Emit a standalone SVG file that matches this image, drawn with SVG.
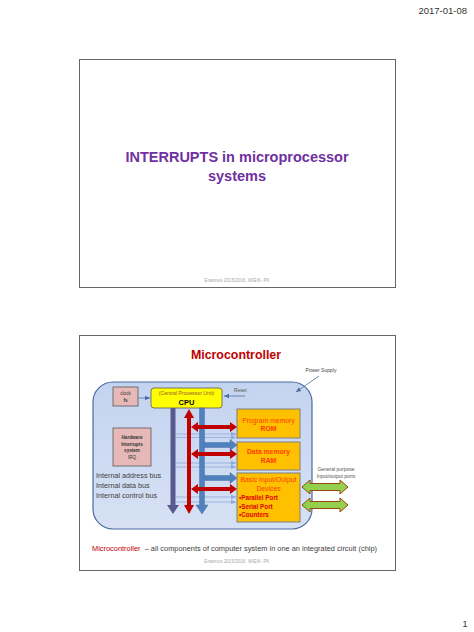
<svg xmlns="http://www.w3.org/2000/svg" width="474" height="632" viewBox="0 0 474 632">
<defs>
<style>
text{font-family:"Liberation Sans",Arial,sans-serif}
.slide{fill:#fff;stroke:#666;stroke-width:1}
.foot{font-size:4.6px;fill:#a8a8a8;text-anchor:middle}
.pink{fill:#e6b9b8;stroke:#595959;stroke-width:0.8}
.mem{fill:#ffc000;stroke:#7f7f7f;stroke-width:1}
.small{font-size:4.6px;fill:#333;text-anchor:middle}
.memt{font-size:6.8px;fill:#ff3c00;text-anchor:middle}
.bul{font-size:6.3px;fill:#e00000;font-weight:bold}
.bus{font-size:7.2px;fill:#404040}
.thin{stroke:#8faadc;stroke-width:0.8;fill:none;marker-end:url(#ta)}
.red{fill:#c00000}
.blue{fill:#4f81bd;stroke:#3a639a;stroke-width:0.4}
.green{fill:#92d050;stroke:#984807;stroke-width:1}
.ln{stroke:#4a6fa5;stroke-width:0.8;fill:none;marker-end:url(#la)}
</style>
<linearGradient id="bg" x1="0" y1="0" x2="0" y2="1">
<stop offset="0" stop-color="#c4d3ef"/>
<stop offset="1" stop-color="#d6e1f4"/>
</linearGradient>
<marker id="ta" markerWidth="6" markerHeight="6" refX="5" refY="3" orient="auto" markerUnits="userSpaceOnUse">
<path d="M0,0.8 L5,3 L0,5.2 Z" fill="#8faadc"/>
</marker>
<marker id="la" markerWidth="6" markerHeight="6" refX="5" refY="3" orient="auto" markerUnits="userSpaceOnUse">
<path d="M0,0.8 L5,3 L0,5.2 Z" fill="#4a6fa5"/>
</marker>
</defs>

<text x="467" y="14" font-size="9.5" fill="#333" text-anchor="end">2017-01-08</text>

<g id="slide1">
<rect class="slide" x="79.5" y="59.5" width="316" height="228"/>
<text x="237" y="162" font-size="14.5" font-weight="bold" fill="#7030a0" text-anchor="middle">INTERRUPTS in microprocessor</text>
<text x="237" y="181" font-size="14.5" font-weight="bold" fill="#7030a0" text-anchor="middle">systems</text>
<text class="foot" x="237" y="282">Erasmus 2015/2016, WIEiK- PK</text>
</g>

<g id="slide2">
<rect class="slide" x="79.5" y="335.5" width="316" height="235"/>
<text x="236" y="359" font-size="12.4" font-weight="bold" fill="#c00000" text-anchor="middle">Microcontroller</text>
<text x="321" y="372" font-size="5" fill="#444" text-anchor="middle">Power Supply</text>
</g>

<g id="chip">
<rect x="93" y="382" width="219" height="147" rx="20" fill="url(#bg)" stroke="#4a6aa0" stroke-width="1.2"/>
</g>

<g id="clock">
<rect class="pink" x="113" y="387" width="25" height="19"/>
<text class="small" x="125.5" y="395">clock</text>
<text class="small" x="125.5" y="401.5" font-weight="bold">fs</text>
</g>

<g id="cpu">
<rect x="151" y="388" width="71" height="20" rx="3" fill="#ffff00" stroke="#595959" stroke-width="0.8"/>
<text x="186.5" y="394.5" font-size="5.2" fill="#a0522d" text-anchor="middle">(Central Processor Unit)</text>
<text x="186.5" y="404.5" font-size="7.5" font-weight="bold" fill="#000" text-anchor="middle">CPU</text>
</g>

<g id="reset">
<text x="234" y="392" font-size="4.8" fill="#555">Reset</text>
</g>

<g id="irq">
<rect class="pink" x="113" y="428" width="38" height="38"/>
<text class="small" x="132" y="439" font-weight="bold">Hardware</text>
<text class="small" x="132" y="445.5" font-weight="bold">Interrupts</text>
<text class="small" x="132" y="452" font-weight="bold">system</text>
<text class="small" x="132" y="458.5">IRQ</text>
</g>

<g id="rom">
<rect class="mem" x="237" y="409" width="63" height="29"/>
<text class="memt" x="268.5" y="422.5">Program memory</text>
<text class="memt" x="268.5" y="431" font-weight="bold">ROM</text>
</g>

<g id="ram">
<rect class="mem" x="237" y="442" width="63" height="28"/>
<text class="memt" x="268.5" y="453.5" font-weight="bold">Data memory</text>
<text class="memt" x="268.5" y="462.5" font-weight="bold">RAM</text>
</g>

<g id="io">
<rect class="mem" x="237" y="473" width="63" height="49"/>
<text class="memt" x="268.5" y="481.5" font-size="6.3" fill="#ff5a1a">Basic Input/Output</text>
<text class="memt" x="268.5" y="490.5" font-size="6.3" fill="#ff5a1a">Devices</text>
<text class="bul" x="239" y="500">•Parallel Port</text>
<text class="bul" x="239" y="508.5">•Serial Port</text>
<text class="bul" x="239" y="517">•Counters</text>
</g>

<g id="labels">
<text class="bus" x="96" y="478">Internal  address bus</text>
<text class="bus" x="96" y="488">Internal data bus</text>
<text class="bus" x="96" y="498">Internal control bus</text>
<text x="336" y="470.5" font-size="5" fill="#555" text-anchor="middle">General purpose</text>
<text x="336" y="478" font-size="5" fill="#555" text-anchor="middle">Input/output ports</text>
<text x="92" y="551" font-size="7.1" fill="#404040" textLength="285" lengthAdjust="spacingAndGlyphs" xml:space="preserve"><tspan fill="#c00000">Microcontroller</tspan>  – all components of computer system in one an integrated circuit (chip)</text>
<text class="foot" x="237" y="563">Erasmus 2015/2016, WIEiK- PK</text>
</g>

<g id="connectors">
<path class="ln" d="M319,376 L296,392"/>
<path class="ln" d="M138,398 L150,398"/>
<path class="ln" d="M245,396 L224,396"/>
<path class="thin" d="M176,434 L236,434"/>
<path class="thin" d="M176,437.5 L236,437.5"/>
<path class="thin" d="M176,463 L236,463"/>
<path class="thin" d="M176,467 L236,467"/>
<path class="thin" d="M176,497 L236,497"/>
<path class="thin" d="M176,502 L236,502"/>
<polygon fill="#575a8e" points="170.5,408 175.5,408 175.5,505 179,505 173,514 167,505 170.5,505"/>
<polygon class="red" points="189,409 194,418 191,418 191,505 194,505 189,514 184,505 187,505 187,418 184,418"/>
<polygon class="blue" points="199.5,408 204.5,408 204.5,505 208,505 202,514 196,505 199.5,505"/>
<polygon class="red" points="191,427 198,422 198,425 230,425 230,422 237,427 230,432 230,429 198,429 198,432"/>
<polygon class="red" points="191,454 198,449 198,452 230,452 230,449 237,454 230,459 230,456 198,456 198,459"/>
<polygon class="red" points="191,489 198,484 198,487 230,487 230,484 237,489 230,494 230,491 198,491 198,494"/>
<polygon class="blue" points="204.5,442.5 230,442.5 230,439.5 237,445 230,450.5 230,447.5 204.5,447.5"/>
<polygon class="blue" points="204.5,475.5 230,475.5 230,472.5 237,478 230,483.5 230,480.5 204.5,480.5"/>
<polygon class="green" points="302,487 310,480 310,483.5 340,483.5 340,480 348,487 340,494 340,490.5 310,490.5 310,494"/>
<polygon class="green" points="302,505 310,498 310,501.5 340,501.5 340,498 348,505 340,512 340,508.5 310,508.5 310,512"/>
</g>

<text x="465" y="627" font-size="9" fill="#333" text-anchor="middle">1</text>
</svg>
